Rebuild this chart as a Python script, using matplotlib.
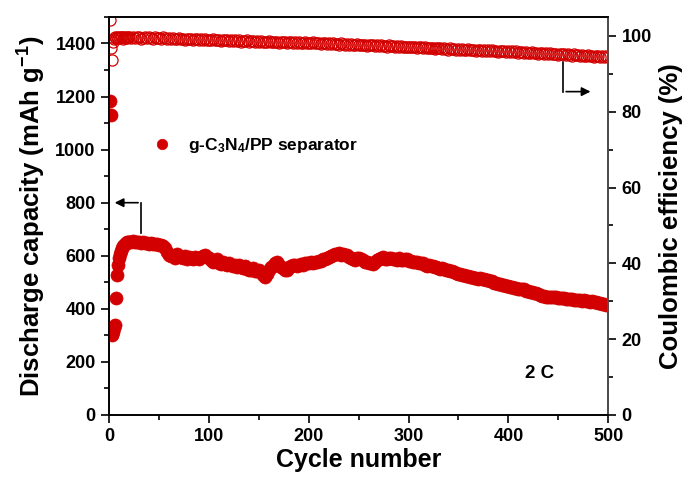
import numpy as np
import matplotlib
matplotlib.use("Agg")
import matplotlib.pyplot as plt
from matplotlib.ticker import MultipleLocator

plt.rcParams["font.family"] = ["Liberation Sans", "DejaVu Sans"]
plt.rcParams["font.weight"] = "bold"
plt.rcParams["axes.labelweight"] = "bold"
plt.rcParams["mathtext.fontset"] = "custom"
plt.rcParams["mathtext.rm"] = "Liberation Sans:bold"
plt.rcParams["mathtext.bf"] = "Liberation Sans:bold"
plt.rcParams["mathtext.default"] = "bf"

# cycle numbers: every cycle up to 20, then every second cycle
cycles = np.r_[np.arange(1, 21), np.arange(22, 501, 2)]

capacity = [
    1182, 1132, 300, 312, 328, 338, 442, 526, 566, 590,
    606, 618, 628, 635, 641, 645, 648, 650, 651, 652,
    # 22 - 100
    653, 654, 652, 651, 650, 649, 650, 648, 647, 646,
    647, 645, 644, 643, 641, 640, 637, 628, 615, 603,
    598, 600, 592, 608, 600, 595, 590, 598, 589, 596,
    592, 587, 595, 590, 586, 594, 598, 602, 597, 590,
    # 102 - 200
    584, 578, 580, 586, 574, 570, 577, 568, 566, 574,
    564, 560, 567, 558, 565, 556, 553, 562, 552, 548,
    545, 553, 543, 541, 548, 540, 528, 520, 530, 546,
    556, 562, 572, 577, 565, 558, 553, 548, 546, 557,
    560, 564, 566, 561, 567, 570, 565, 571, 574, 572,
    # 202 - 300
    576, 573, 578, 576, 581, 580, 586, 589, 593, 594,
    599, 601, 605, 607, 609, 604, 607, 603, 601, 595,
    593, 586, 584, 591, 593, 587, 585, 578, 575, 572,
    573, 569, 576, 583, 587, 591, 594, 589, 587, 590,
    592, 586, 587, 585, 590, 585, 583, 586, 588, 582,
    # 302 - 400
    581, 577, 575, 578, 573, 571, 571, 565, 563, 565,
    560, 561, 557, 558, 554, 552, 553, 549, 547, 547,
    542, 541, 537, 536, 532, 531, 527, 527, 524, 524,
    521, 521, 517, 518, 514, 515, 511, 511, 507, 508,
    504, 504, 499, 499, 495, 495, 491, 491, 487, 487,
    # 402 - 500
    484, 484, 479, 479, 475, 476, 473, 473, 469, 469,
    465, 464, 460, 460, 455, 454, 449, 449, 445, 446,
    443, 444, 443, 443, 440, 441, 440, 440, 437, 438,
    437, 437, 434, 435, 434, 434, 431, 432, 429, 430,
    427, 428, 424, 425, 422, 422, 419, 419, 415, 415,
]

efficiency = [
    104.3, 96.8, 93.6, 98.3, 99.2, 99.6, 99.4, 99.7, 99.5, 99.8,
    99.4, 99.6, 99.7, 99.3, 99.6, 99.5, 99.8, 99.4, 99.6, 99.7,
    # 22 - 100
    99.5, 99.7, 99.4, 99.6, 99.8, 99.3, 99.5, 99.6, 99.4, 99.7,
    99.5, 99.3, 99.6, 99.4, 99.5, 99.2, 99.6, 99.4, 99.3, 99.5,
    99.2, 99.4, 99.3, 99.1, 99.4, 99.2, 99.3, 99.0, 99.3, 99.1,
    99.2, 99.0, 99.3, 99.1, 98.9, 99.2, 99.0, 99.1, 98.9, 99.0,
    # 102 - 200
    98.9, 99.1, 98.8, 99.0, 98.9, 98.7, 99.0, 98.8, 98.9, 98.7,
    98.8, 98.6, 98.9, 98.7, 98.8, 98.5, 98.7, 98.6, 98.8, 98.5,
    98.6, 98.7, 98.4, 98.6, 98.5, 98.7, 98.4, 98.5, 98.3, 98.6,
    98.4, 98.5, 98.3, 98.5, 98.2, 98.4, 98.3, 98.5, 98.2, 98.3,
    98.4, 98.1, 98.3, 98.2, 98.4, 98.1, 98.2, 98.3, 98.0, 98.2,
    # 202 - 300
    98.1, 98.3, 98.0, 98.2, 98.1, 97.9, 98.1, 98.0, 97.8, 98.0,
    97.9, 98.1, 97.8, 97.9, 97.7, 98.0, 97.8, 97.7, 97.9, 97.6,
    97.8, 97.7, 97.5, 97.8, 97.6, 97.7, 97.5, 97.6, 97.4, 97.7,
    97.5, 97.6, 97.3, 97.5, 97.4, 97.6, 97.3, 97.4, 97.2, 97.5,
    97.3, 97.4, 97.1, 97.3, 97.2, 97.4, 97.1, 97.2, 97.0, 97.2,
    # 302 - 400
    97.1, 97.0, 97.2, 96.9, 97.1, 97.0, 96.8, 97.0, 96.9, 96.7,
    96.9, 96.8, 96.6, 96.9, 96.7, 96.8, 96.5, 96.7, 96.6, 96.4,
    96.7, 96.5, 96.6, 96.4, 96.5, 96.3, 96.6, 96.4, 96.3, 96.5,
    96.2, 96.4, 96.3, 96.1, 96.4, 96.2, 96.0, 96.3, 96.1, 96.2,
    95.9, 96.2, 96.0, 96.1, 95.8, 96.0, 95.9, 96.1, 95.8, 95.9,
    # 402 - 500
    95.8, 96.0, 95.7, 95.9, 95.6, 95.8, 95.7, 95.5, 95.8, 95.6,
    95.4, 95.7, 95.5, 95.6, 95.3, 95.5, 95.4, 95.2, 95.5, 95.3,
    95.4, 95.1, 95.3, 95.2, 95.0, 95.3, 95.1, 95.2, 94.9, 95.1,
    95.0, 94.8, 95.1, 94.9, 95.0, 94.7, 94.9, 94.8, 94.6, 94.9,
    94.7, 94.8, 94.5, 94.7, 94.6, 94.4, 94.7, 94.5, 94.6, 94.4,
]

x_ticks = [0, 100, 200, 300, 400, 500]
cap_ticks = [0, 200, 400, 600, 800, 1000, 1200, 1400]
ce_ticks = [0, 20, 40, 60, 80, 100]

red = "#d20000"

fig = plt.figure(figsize=(6.85, 4.84), dpi=100)
ax = fig.add_axes([0.159, 0.1426, 0.729, 0.8224])
ax2 = ax.twinx()

ax.plot(cycles, capacity, "o", color=red, ms=9.4, mec=red, mew=0.5,
        label=r"g-C$_3$N$_4$/PP separator", zorder=3)
ax2.plot(cycles, efficiency, "o", mfc="none", mec=red, ms=8.0, mew=0.9)

ax.set_xlim(0, 500)
ax.set_ylim(0, 1500)
ax2.set_ylim(0, 105)

for a in (ax, ax2):
    a.tick_params(which="major", direction="out", length=6, width=1.2,
                  labelsize=13)
    a.tick_params(which="minor", direction="out", length=3.5, width=1.2)
    for s in a.spines.values():
        s.set_linewidth(1.2)
ax.tick_params(top=False, right=False)
ax2.spines["right"].set_color("#555555")

ax.set_xticks(x_ticks)
ax.set_yticks(cap_ticks)
ax2.set_yticks(ce_ticks)
ax.xaxis.set_minor_locator(MultipleLocator(50))
ax.yaxis.set_minor_locator(MultipleLocator(100))
ax2.yaxis.set_minor_locator(MultipleLocator(10))

ax.set_xlabel("Cycle number", fontsize=18, fontweight="bold", labelpad=2)
ax.set_ylabel(r"Discharge capacity (mAh g$^{-1}$)", fontsize=18.5,
              fontweight="bold", labelpad=5)
ax2.set_ylabel("Coulombic efficiency (%)", fontsize=18.5, fontweight="bold",
               labelpad=5)

ax.legend(loc="center left", bbox_to_anchor=(0.04, 0.678), frameon=False,
          prop={"size": 12.5, "weight": "bold"}, handletextpad=0.5,
          markerscale=0.8)

ax.text(417, 140, "2 C", fontsize=13.5, fontweight="bold")

# arrows pointing to the axes
ax.annotate("", xy=(3, 800), xytext=(32, 800),
            arrowprops=dict(arrowstyle="-|>", color="black", lw=1.2,
                            mutation_scale=13))
ax.plot([32, 32], [800, 685], color="black", lw=1.2)
ax2.plot([455, 455], [93.0, 85.3], color="black", lw=1.2)
ax2.annotate("", xy=(485, 85.3), xytext=(455, 85.3),
             arrowprops=dict(arrowstyle="-|>", color="black", lw=1.2,
                             mutation_scale=13))

fig.canvas.draw()
for a in (ax, ax2):
    for lab in a.get_xticklabels() + a.get_yticklabels():
        lab.set_fontweight("bold")
        lab.set_fontsize(13)

fig.savefig("out.png", dpi=100)
